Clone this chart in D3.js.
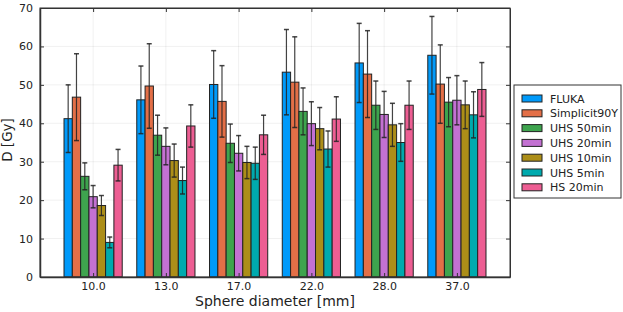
<!DOCTYPE html>
<html>
<head>
<meta charset="utf-8">
<script src="https://cdn.jsdelivr.net/npm/d3@7"></script>
<style>
  body { margin: 0; background: #fff; }
  text { font-family: "DejaVu Sans", sans-serif; fill: #222; }
</style>
</head>
<body>
<svg id="chart" width="623" height="312"></svg>
<script>
// sphere diameters (x categories)
var categories = ["10.0", "13.0", "17.0", "22.0", "28.0", "37.0"];
var seriesNames = ["FLUKA", "Simplicit90Y", "UHS 50min", "UHS 20min", "UHS 10min", "UHS 5min", "HS 20min"];
var seriesColors = ["#009afa", "#e36f47", "#3ea44e", "#c371d2", "#ac8e18", "#00aaae", "#ed5e93"];

// dose values per series, one per category
var fluka      = [41.2, 46.1, 50.1, 53.3, 55.7, 57.7];
var simplicit  = [46.8, 49.7, 45.7, 50.7, 52.8, 50.2];
var uhs50      = [26.2, 36.9, 34.8, 43.1, 44.7, 45.5];
var uhs20      = [20.9, 34.0, 32.2, 39.9, 42.3, 46.0];
var uhs10      = [18.6, 30.3, 29.8, 38.6, 39.6, 44.8];
var uhs5       = [9.0, 25.1, 29.6, 33.3, 35.0, 42.2];
var hs20       = [29.1, 39.3, 37.0, 41.1, 44.7, 48.8];

// error bar half-widths
var flukaErr     = [8.8, 8.8, 8.8, 11.1, 10.3, 10.1];
var simplicitErr = [11.3, 11.0, 9.3, 11.8, 11.3, 10.2];
var uhs50Err     = [3.5, 5.2, 5.0, 6.1, 6.3, 6.4];
var uhs20Err     = [2.9, 4.8, 4.6, 5.7, 6.0, 6.4];
var uhs10Err     = [2.6, 4.3, 4.2, 5.5, 5.6, 6.2];
var uhs5Err      = [1.4, 3.5, 4.2, 4.7, 4.9, 6.0];
var hs20Err      = [4.1, 5.5, 5.1, 5.8, 6.3, 7.0];

var yTicks = [0, 10, 20, 30, 40, 50, 60, 70];

var values = [fluka, simplicit, uhs50, uhs20, uhs10, uhs5, hs20];
var errors = [flukaErr, simplicitErr, uhs50Err, uhs20Err, uhs10Err, uhs5Err, hs20Err];

var svg = d3.select("#chart");
var pLeft = 40, pRight = 510, pTop = 8, pBottom = 277;

var x = d3.scaleLinear().domain([0.27, 6.73]).range([pLeft, pRight]);
var y = d3.scaleLinear().domain([0, 70]).range([pBottom, pTop]);

var groupWidth = 0.8;
var barW = groupWidth / seriesNames.length;

// grid
var grid = svg.append("g");
grid.selectAll(".gx").data(categories).enter().append("line")
  .attr("x1", function(d, i) { return x(i + 1); })
  .attr("x2", function(d, i) { return x(i + 1); })
  .attr("y1", pTop).attr("y2", pBottom)
  .attr("stroke", "#000").attr("stroke-opacity", 0.1).attr("stroke-width", 0.6);
grid.selectAll(".gy").data(yTicks).enter().append("line")
  .attr("x1", pLeft).attr("x2", pRight)
  .attr("y1", function(d) { return y(d); })
  .attr("y2", function(d) { return y(d); })
  .attr("stroke", "#000").attr("stroke-opacity", 0.1).attr("stroke-width", 0.6);

// bars
var rows = [];
values.forEach(function(vals, s) {
  vals.forEach(function(v, c) {
    rows.push({ s: s, c: c, v: v, e: errors[s][c] });
  });
});

function barX(d) { return d.c + 1 - groupWidth / 2 + d.s * barW; }

svg.append("g").selectAll("rect").data(rows).enter().append("rect")
  .attr("x", function(d) { return x(barX(d)); })
  .attr("width", function(d) { return x(barX(d) + barW) - x(barX(d)); })
  .attr("y", function(d) { return y(d.v); })
  .attr("height", function(d) { return y(0) - y(d.v); })
  .attr("fill", function(d) { return seriesColors[d.s]; })
  .attr("stroke", "#222").attr("stroke-width", 1);

// error bars
var eb = svg.append("g").attr("stroke", "#222").attr("stroke-width", 1.2).attr("stroke-opacity", 0.85);
rows.forEach(function(d) {
  var cx = x(barX(d) + barW / 2);
  eb.append("line").attr("x1", cx).attr("x2", cx)
    .attr("y1", y(d.v - d.e)).attr("y2", y(d.v + d.e));
  [d.v - d.e, d.v + d.e].forEach(function(t) {
    eb.append("line").attr("x1", cx - 2.5).attr("x2", cx + 2.5)
      .attr("y1", y(t)).attr("y2", y(t)).attr("stroke-width", 1.5);
  });
});

// frame
svg.append("rect").attr("x", pLeft).attr("y", pTop)
  .attr("width", pRight - pLeft).attr("height", pBottom - pTop)
  .attr("fill", "none").attr("stroke", "#333").attr("stroke-width", 1);

// axes
var xAxis = d3.axisBottom(x).tickValues(d3.range(1, 7))
  .tickFormat(function(d) { return categories[d - 1]; }).tickSizeInner(-4).tickSizeOuter(0).tickPadding(5);
var gx = svg.append("g").attr("transform", "translate(0," + pBottom + ")").call(xAxis);
var gxTop = svg.append("g").attr("transform", "translate(0," + pTop + ")")
  .call(d3.axisTop(x).tickValues(d3.range(1, 7)).tickSizeInner(-4).tickSizeOuter(0).tickFormat(""));

var yAxis = d3.axisLeft(y).tickValues(yTicks).tickSizeInner(-4).tickSizeOuter(0).tickPadding(7);
var gy = svg.append("g").attr("transform", "translate(" + pLeft + ",0)").call(yAxis);
var gyR = svg.append("g").attr("transform", "translate(" + pRight + ",0)")
  .call(d3.axisRight(y).tickValues(yTicks).tickSizeInner(-4).tickSizeOuter(0).tickFormat(""));

[gx, gxTop, gy, gyR].forEach(function(g) {
  g.select(".domain").attr("stroke", "#333");
  g.selectAll(".tick line").attr("stroke", "#333");
  g.selectAll("text").style("font-size", "11px").attr("fill", "#222")
    .style("font-family", "DejaVu Sans, sans-serif");
});
gx.select(".domain").attr("stroke-width", 1.5);
gy.select(".domain").attr("stroke-width", 1.5);

// axis titles
svg.append("text").attr("x", (pLeft + pRight) / 2).attr("y", 306)
  .attr("text-anchor", "middle").style("font-size", "14px").text("Sphere diameter [mm]");
svg.append("text").attr("transform", "translate(12,140) rotate(-90)")
  .attr("text-anchor", "middle").style("font-size", "13.5px").text("D [Gy]");

// legend
var lg = svg.append("g").attr("transform", "translate(514,85)");
lg.append("rect").attr("width", 107).attr("height", 113)
  .attr("fill", "#fff").attr("stroke", "#333").attr("stroke-width", 1);
var items = lg.selectAll(".item").data(seriesNames).enter().append("g")
  .attr("transform", function(d, i) { return "translate(0," + (13.5 + i * 14.8) + ")"; });
items.append("rect").attr("x", 8).attr("y", -3.5).attr("width", 20).attr("height", 7)
  .attr("fill", function(d, i) { return seriesColors[i]; })
  .attr("stroke", "#222").attr("stroke-width", 1);
items.append("text").attr("x", 36).attr("y", 4).style("font-size", "11px").text(function(d) { return d; });
</script>
</body>
</html>
